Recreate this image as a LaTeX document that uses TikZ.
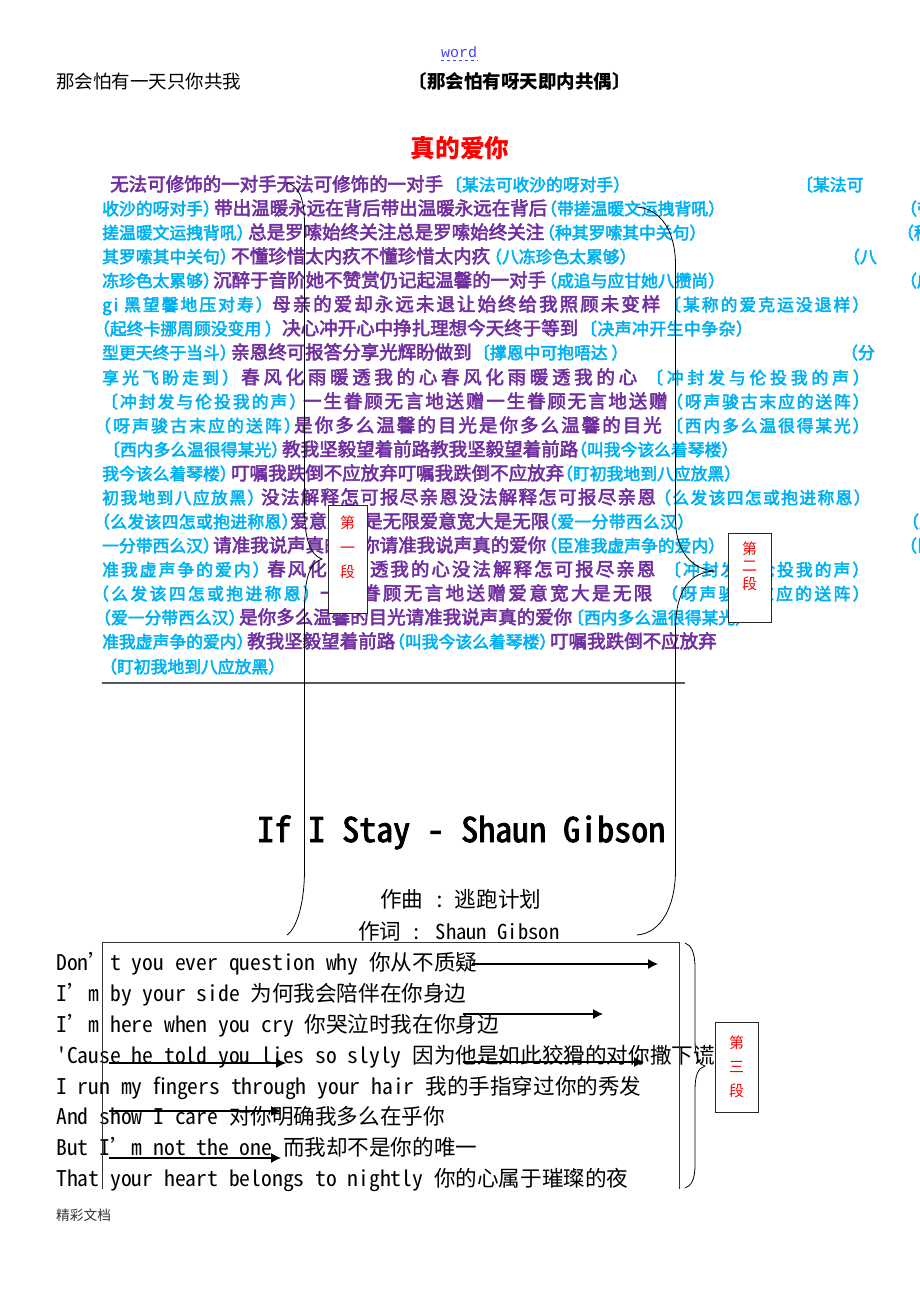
\documentclass[tikz,border=0pt]{standalone}
\usepackage{fontspec}
\usepackage{tikz}
\usetikzlibrary{arrows.meta}
\setmainfont{Noto Sans CJK SC}
\setmonofont{Liberation Mono}
\newfontfamily\versefont[FakeBold=3]{Noto Sans CJK SC}
\newfontfamily\songfont[RawFeature=+hwid]{Noto Sans CJK SC}
\newfontfamily\songbold[RawFeature=+hwid,FakeBold=2.5]{Noto Sans CJK SC}
\definecolor{lyricpurple}{HTML}{7030A0}
\definecolor{lyriccyan}{HTML}{00B0F0}
\definecolor{linkblue}{HTML}{4646F0}
\newcommand{\cn}[1]{{\fontsize{21.6}{24}\selectfont #1}}
\newcommand{\apo}{\makebox[10.8pt][l]{’}}
\tikzset{
    seg/.style={anchor=base west, inner sep=0pt},
    pur/.style={seg, text=lyricpurple, font=\fontsize{18.5}{20}\versefont},
    cya/.style={seg, text=lyriccyan, font=\fontsize{16.8}{20}\versefont},
    spread/.style={execute at begin node={\addfontfeature{LetterSpace=#1}}},
    eng/.style={seg, font=\fontsize{21.6}{24}\songfont},
    parabox/.style={draw=black!85, line width=0.9pt, fill=white, text=red, align=center, inner sep=0pt},
    brace/.style={draw, line width=0.8pt},
    lyricarrow/.style={line width=1.1pt, -{Latex[length=10pt,width=10pt]}}
}
\begin{document}
\begin{tikzpicture}[x=1pt, y=-1pt]
\useasboundingbox (0,0) rectangle (920,1302);
% head
\node [seg, text=linkblue, font=\fontsize{15}{18}\ttfamily] (wordlink) at (441,57) {word};
\draw [dashed, linkblue, line width=0.6pt] (wordlink.base west) ++(0,3) -- ++(37,0);
\node [seg, font=\fontsize{18.5}{20}\selectfont] (headleft) at (56,88) {那会怕有一天只你共我};
\node [seg, font=\fontsize{18.5}{20}\selectfont\bfseries] (headright) at (408.5,88) {〔那会怕有呀天即内共偶〕};
\node [text=red, font=\fontsize{24.7}{28}\selectfont\bfseries] (maintitle) at (460,148) {真的爱你};
% verses
\node [pur] (l1a) at (110,191) {无法可修饰的一对手无法可修饰的一对手};
\node [cya] (l1b) at (445,191) {〔某法可收沙的呀对手）};
\node [cya] (l1c) at (796,191) {〔某法可};
\node [cya] (l2a) at (102,215) {收沙的呀对手）};
\node [pur] (l2b) at (214,215) {带出温暖永远在背后带出温暖永远在背后};
\node [cya] (l2c) at (540,215) {（带搓温暖文运拽背吼）};
\node [cya] (l2d) at (900,215) {（带};
\node [cya] (l3a) at (102,239) {搓温暖文运拽背吼）};
\node [pur] (l3b) at (248,239) {总是罗嗦始终关注总是罗嗦始终关注};
\node [cya] (l3c) at (538,239) {（种其罗嗦其中关句）};
\node [cya] (l3d) at (897,239) {（种};
\node [cya] (l4a) at (102,263) {其罗嗦其中关句）};
\node [pur] (l4b) at (231,263) {不懂珍惜太内疚不懂珍惜太内疚};
\node [cya] (l4c) at (485,263) {（八冻珍色太累够）};
\node [cya] (l4d) at (843,263) {（八};
\node [cya] (l5a) at (102,287) {冻珍色太累够）};
\node [pur] (l5b) at (213,287) {沉醉于音阶她不赞赏仍记起温馨的一对手};
\node [cya] (l5c) at (540,287) {（成追与应甘她八攒尚）};
\node [cya] (l5d) at (900,287) {（成};
\node [cya, spread=12] (l6a) at (102,311) {gi 黑望馨地压对寿）};
\node [pur, spread=11] (l6b) at (272,311) {母亲的爱却永远未退让始终给我照顾未变样};
\node [cya, spread=12] (l6c) at (664,311) {〔某称的爱克运没退样）};
\node [cya] (l7a) at (93,335) {（起终卡挪周顾没变用 ）};
\node [pur] (l7b) at (282,335) {决心冲开心中挣扎理想今天终于等到};
\node [cya, spread=3] (l7c) at (580,335) {〔决声冲开生中争杂）};
\node [cya] (l8a) at (102,359) {型更天终于当斗）};
\node [pur] (l8b) at (231,359) {亲恩终可报答分享光辉盼做到};
\node [cya] (l8c) at (473,359) {〔撑恩中可抱唔达 ）};
\node [cya] (l8d) at (841,359) {（分};
\node [cya, spread=19] (l9a) at (102,384) {享光飞盼走到）};
\node [pur, spread=20] (l9b) at (241,384) {春风化雨暖透我的心春风化雨暖透我的心};
\node [cya, spread=23] (l9c) at (646,384) {〔冲封发与伦投我的声）};
\node [cya, spread=12] (l10a) at (101,408) {〔冲封发与伦投我的声）};
\node [pur, spread=10] (l10b) at (303,408) {一生眷顾无言地送赠一生眷顾无言地送赠};
\node [cya, spread=11] (l10c) at (666,408) {（呀声骏古末应的送阵）};
\node [cya, spread=13] (l11a) at (94,432) {（呀声骏古末应的送阵）};
\node [pur, spread=11] (l11b) at (294,432) {是你多么温馨的目光是你多么温馨的目光};
\node [cya, spread=11] (l11c) at (666,432) {〔西内多么温很得某光）};
\node [cya] (l12a) at (103,456) {〔西内多么温很得某光）};
\node [pur] (l12b) at (282,456) {教我坚毅望着前路教我坚毅望着前路};
\node [cya] (l12c) at (570,456) {（叫我今该么着琴楼）};
\node [cya] (l13a) at (102,480) {我今该么着琴楼）};
\node [pur] (l13b) at (231,480) {叮嘱我跌倒不应放弃叮嘱我跌倒不应放弃};
\node [cya] (l13c) at (556,480) {（盯初我地到八应放黑）};
\node [cya, spread=8] (l14a) at (102,504) {初我地到八应放黑）};
\node [pur, spread=7] (l14b) at (261,504) {没法解释怎可报尽亲恩没法解释怎可报尽亲恩};
\node [cya, spread=8] (l14c) at (654,504) {（么发该四怎或抱进称恩）};
\node [cya, spread=2] (l15a) at (93,528) {（么发该四怎或抱进称恩）};
\node [pur] (l15b) at (290,528) {爱意宽大是无限爱意宽大是无限};
\node [cya, spread=2] (l15c) at (540,528) {（爱一分带西么汉）};
\node [cya] (l15d) at (902,528) {（爱};
\node [cya] (l16a) at (102,552) {一分带西么汉）};
\node [pur] (l16b) at (213,552) {请准我说声真的爱你请准我说声真的爱你};
\node [cya] (l16c) at (540,552) {（臣准我虚声争的爱内）};
\node [cya] (l16d) at (900,552) {（臣};
\node [cya, spread=12] (l17a) at (102,576) {准我虚声争的爱内）};
\node [pur, spread=11] (l17b) at (267,576) {春风化雨暖透我的心没法解释怎可报尽亲恩};
\node [cya, spread=12] (l17c) at (664,576) {〔冲封发与伦投我的声）};
\node [cya, spread=14] (l18a) at (92,600) {（么发该四怎或抱进称恩）};
\node [pur, spread=13] (l18b) at (320,600) {一生眷顾无言地送赠爱意宽大是无限};
\node [cya, spread=14] (l18c) at (661,600) {（呀声骏古末应的送阵）};
\node [cya] (l19a) at (94,624) {（爱一分带西么汉）};
\node [pur] (l19b) at (239,624) {是你多么温馨的目光请准我说声真的爱你};
\node [cya] (l19c) at (567,624) {〔西内多么温很得某光）};
\node [cya] (l20a) at (102,648) {准我虚声争的爱内）};
\node [pur] (l20b) at (247,648) {教我坚毅望着前路};
\node [cya] (l20c) at (388,648) {（叫我今该么着琴楼）};
\node [pur] (l20d) at (550,648) {叮嘱我跌倒不应放弃};
\node [cya] (l21a) at (100,673) {（盯初我地到八应放黑）};
\draw [black!65, line width=1.6pt] (102,683) -- (685,683);
% song
\node [seg, font=\fontsize{34}{38}\songbold] (songtitle) at (257,842) {If I Stay - Shaun Gibson};
\node [eng] (composer) at (380,907) {\cn{作曲} :\hspace{10pt}\cn{逃跑计划}};
\node [eng, font=\fontsize{20.6}{24}\songfont] (lyricist) at (358,939) {\cn{作词} : Shaun Gibson};
\node [eng] (s1) at (56,970) {Don\apo{} t you ever question why 你从不质疑};
\node [eng] (s2) at (56,1001) {I\apo{} m by your side 为何我会陪伴在你身边};
\node [eng] (s3) at (56,1032) {I\apo{} m here when you cry 你哭泣时我在你身边};
\node [eng] (s4) at (56,1063) {'Cause he told you lies so slyly 因为他是如此狡猾的对你撒下谎};
\node [eng] (s5) at (56,1094) {I run my fingers through your hair 我的手指穿过你的秀发};
\node [eng] (s6) at (56,1124) {And show I care 对你明确我多么在乎你};
\node [eng] (s7) at (56,1155) {But I\apo{} m not the one 而我却不是你的唯一};
\node [eng] (s8) at (56,1186) {That your heart belongs to nightly 你的心属于璀璨的夜};
\node [seg, font=\fontsize{13.7}{16}\selectfont, text=black!80] (footer) at (56,1220) {精彩文档};
% frame round the song
\coordinate (framea) at (102,1189);
\coordinate (frameb) at (102,942.5);
\coordinate (framec) at (679,942.5);
\coordinate (framed) at (679,1189);
\draw [black!80, line width=0.8pt] (framea) -- (frameb) -- (framec) -- (framed);
% arrows over the lines
\foreach \n/\xa/\xb/\y in {1/472/658/964, 2/463/603/1014, 3/463/644/1062, 4/109/286/1063, 5/109/281/1111, 6/109/281/1158} {
    \coordinate (arrow\n a) at (\xa,\y);
    \coordinate (arrow\n b) at (\xb,\y);
    \draw [lyricarrow] (arrow\n a) -- (arrow\n b);
}
% braces and their boxes
\coordinate (tipone) at (322,559);
\coordinate (tiptwo) at (715,571);
\coordinate (tipthree) at (705,1066);
\draw [brace] (287,183) .. controls (298,186) and (304.5,196) .. (304.5,225) -- (304.5,510)
    .. controls (304.5,535) and (309,555) .. (tipone) .. controls (309,563) and (304.5,580) .. (304.5,610)
    -- (304.5,870) .. controls (304.5,900) and (298,927) .. (287,935);
\draw [brace] (637,207) .. controls (660,209) and (675.5,230) .. (675.5,265) -- (675.5,520)
    .. controls (675.5,548) and (690,570) .. (tiptwo) .. controls (690,572) and (675.5,590) .. (675.5,630)
    -- (675.5,870) .. controls (675.5,905) and (662,933) .. (637,935);
\draw [brace] (685,943) .. controls (691,945) and (695,952) .. (695,968) -- (695,1040)
    .. controls (695,1055) and (698,1064) .. (tipthree) .. controls (698,1068) and (695,1075) .. (695,1090)
    -- (695,1165) .. controls (695,1180) and (691,1186) .. (685,1188);
\node [parabox, minimum width=39pt, minimum height=108pt, font=\fontsize{15}{24.5}\selectfont] (boxone) at (347.5,559) {第\\一\\段\\~};
\node [parabox, minimum width=43pt, minimum height=89pt, font=\fontsize{15}{17.5}\selectfont] (boxtwo) at (749.5,577.5) {第\hspace{5pt}\\二\hspace{5pt}\\段\hspace{5pt}\\[7pt]~};
\node [parabox, minimum width=43pt, minimum height=90pt, font=\fontsize{15}{24}\selectfont] (boxthree) at (736.5,1067) {第\\三\\段};
\end{tikzpicture}
\end{document}
